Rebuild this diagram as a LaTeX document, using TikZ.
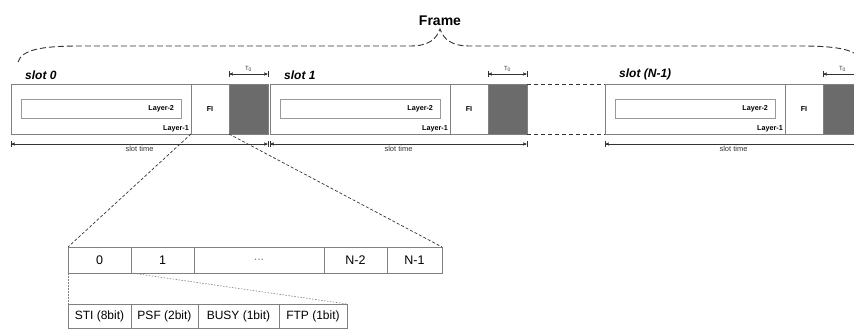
\documentclass[tikz,border=0pt]{standalone}
\usepackage{fontspec}
\setmainfont{Liberation Sans}
\usetikzlibrary{arrows}
\usetikzlibrary{positioning}

\begin{document}
\begin{tikzpicture}[x=1pt, y=-1pt,
  box/.style={draw=gray, line width=.8pt, inner sep=0, outer sep=0, minimum height=50pt},
  lbl/.style={font=\fontsize{7.2}{8}\selectfont\bfseries},
  l2box/.style={draw=gray!80, line width=.7pt, outer sep=0, text width=146pt, inner xsep=7pt, inner ysep=0, minimum height=19pt, align=right, lbl},
  slotlbl/.style={font=\fontsize{12}{14}\selectfont\bfseries\itshape, inner sep=1pt},
  dim/.style={black!80, line width=.4pt, |<->|, >=stealth'},
  small/.style={font=\fontsize{7.5}{9}\selectfont, text=black!80, inner sep=2pt},
  gap/.style={black!80, line width=.7pt, dash pattern=on 4pt off 3pt},
  zoomln/.style={black!80, line width=.7pt, dash pattern=on 3pt off 2pt},
  dots/.style={gray, line width=.6pt, dash pattern=on 1.5pt off 1.5pt},
  cell/.style={draw=gray, line width=.8pt, inner sep=0, outer sep=0, minimum height=26pt, font=\fontsize{12.5}{14}\selectfont},
  field/.style={draw=gray, line width=.8pt, inner sep=0, outer sep=0, minimum height=24pt, font=\fontsize{12}{14}\selectfont}]
\useasboundingbox (0,0) rectangle (854,331);
\clip (0,0) rectangle (854,331);

% frame brace
\coordinate (br-l) at (18,62);
\coordinate (br-tip) at (440,29);
\coordinate (br-r) at (862,62);
\node[font=\fontsize{14}{16}\selectfont\bfseries, inner sep=1pt, above=2pt of br-tip] (frame) {Frame};
\draw[black!80, line width=.9pt, dash pattern=on 6pt off 3pt]
  (br-l) .. controls (22,50) and (40,46) .. (80,46) -- (410,46)
  .. controls (428,46) and (436,40) .. (br-tip)
  .. controls (444,40) and (452,46) .. (470,46) -- (800,46)
  .. controls (840,46) and (858,50) .. (br-r);

% slots
\foreach \s/\x/\name in {a/11/slot 0, b/270/slot 1, c/605/slot (N-1)} {
 \node[box, minimum width=180pt, anchor=north west] (l1-\s) at (\x,84) {};
 \node[box, minimum width=38pt, right=0pt of l1-\s, lbl] (fi-\s) {FI};
 \node[box, minimum width=39pt, right=0pt of fi-\s, fill=black!58] (gr-\s) {};
 \node[l2box, anchor=west] (l2-\s) at ([xshift=10pt]l1-\s.west) {Layer-2};
 \node[lbl, anchor=south east, inner sep=2pt] (l1t-\s) at (l1-\s.south east) {Layer-1};
 \node[slotlbl, anchor=south west] (sl-\s) at ([xshift=13pt, yshift=3pt]l1-\s.north west) {\name};
 \draw[dim] ([yshift=10pt]gr-\s.north west) -- node[small, above, font=\fontsize{6}{7}\selectfont] (t0-\s) {T\textsubscript{0}} ([yshift=10pt]gr-\s.north east);
 \draw[dim] ([yshift=-10pt]l1-\s.south west) -- node[small, below] (st-\s) {slot time} ([yshift=-10pt]gr-\s.south east);
}
\draw[gap] (gr-b.north east) -- (l1-c.north west);
\draw[gap] (gr-b.south east) -- (l1-c.south west);

% mini slots
\node[cell, minimum width=63pt, anchor=north west] (c0) at (68,247) {0};
\node[cell, minimum width=63pt, right=0pt of c0] (c1) {1};
\node[cell, minimum width=130pt, right=0pt of c1, text=gray] (cdots) {...};
\node[cell, minimum width=63pt, right=0pt of cdots] (cn2) {N-2};
\node[cell, minimum width=55pt, right=0pt of cn2] (cn1) {N-1};
\draw[zoomln] (l1-a.south east) -- (c0.north west);
\draw[zoomln] (gr-a.south west) -- (cn1.north east);

% fields
\node[field, minimum width=63pt, anchor=north west] (f1) at (68,304) {STI (8bit)};
\node[field, minimum width=67pt, right=0pt of f1] (f2) {PSF (2bit)};
\node[field, minimum width=81pt, right=0pt of f2] (f3) {BUSY (1bit)};
\node[field, minimum width=68pt, right=0pt of f3] (f4) {FTP (1bit)};
\draw[dots] (c0.south west) -- (f1.north west);
\draw[dots] (c0.south east) -- (f4.north east);
\end{tikzpicture}
\end{document}
